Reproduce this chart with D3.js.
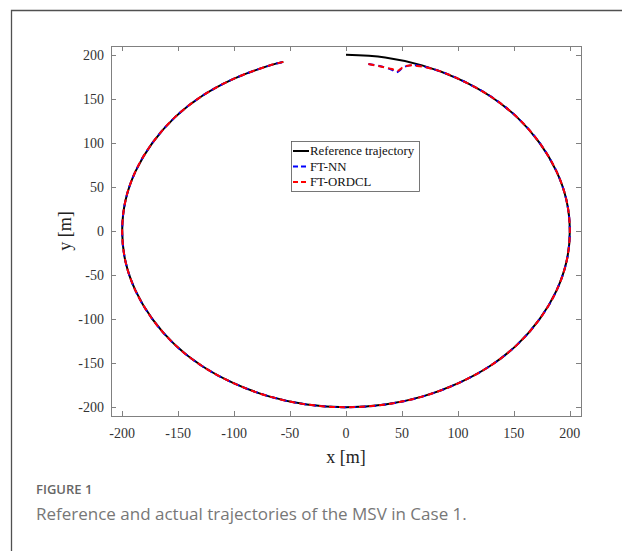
<!DOCTYPE html>
<html>
<head>
<meta charset="utf-8">
<script src="https://cdn.jsdelivr.net/npm/d3@7"></script>
<style>
  body { margin: 0; background: #fff; }
  .tick-label { font-family: "Liberation Serif", "Times New Roman", serif; font-size: 14px; fill: #333; }
  .axis-title { font-family: "Liberation Serif", "Times New Roman", serif; font-size: 18px; fill: #222; }
  .legend-text { font-family: "Liberation Serif", "Times New Roman", serif; font-size: 12.8px; fill: #111; }
</style>
</head>
<body>
<div id="chart"></div>
<script>
// reference trajectory (clockwise from the top)
const refX = [0, 35, 68, 100, 129, 153, 173, 188, 197, 200, 197, 188, 173, 153, 129, 100, 68, 35, 0,
    -35, -68, -100, -129, -153, -173, -188, -197, -200, -197, -188, -173, -153, -129, -100, -68, -56];
const refY = [200, 197, 188, 173, 153, 129, 100, 68, 35, 0, -35, -68, -100, -129, -153, -173, -188, -197, -200,
    -197, -188, -173, -153, -129, -100, -68, -35, 0, 35, 68, 100, 129, 153, 173, 188, 192];

// FT-NN actual trajectory
const nnX = [20, 31, 41, 45, 51, 57, 66, 80, 100, 129, 153, 173, 188, 197, 200, 197, 188, 173, 153, 129, 100, 68, 35, 0,
    -35, -68, -100, -129, -153, -173, -188, -197, -200, -197, -188, -173, -153, -129, -100, -68, -56];
const nnY = [189.5, 187, 183, 180, 185.5, 188, 187.5, 183, 173, 153, 129, 100, 68, 35, 0, -35, -68, -100, -129, -153, -173, -188, -197, -200,
    -197, -188, -173, -153, -129, -100, -68, -35, 0, 35, 68, 100, 129, 153, 173, 188, 192];

// FT-ORDCL actual trajectory
const orX = [20, 30, 41, 46, 51, 57, 66, 80, 100, 129, 153, 173, 188, 197, 200, 197, 188, 173, 153, 129, 100, 68, 35, 0,
    -35, -68, -100, -129, -153, -173, -188, -197, -200, -197, -188, -173, -153, -129, -100, -68, -56];
const orY = [189.5, 187, 183.8, 181.6, 186, 188, 187, 183, 173, 153, 129, 100, 68, 35, 0, -35, -68, -100, -129, -153, -173, -188, -197, -200,
    -197, -188, -173, -153, -129, -100, -68, -35, 0, 35, 68, 100, 129, 153, 173, 188, 192];

const xTicks = [-200, -150, -100, -50, 0, 50, 100, 150, 200];
const yTicks = [-200, -150, -100, -50, 0, 50, 100, 150, 200];

const seriesNames = ["Reference trajectory", "FT-NN", "FT-ORDCL"];
const seriesColors = ["#000000", "#0000ff", "#ff0000"];

const W = 622, H = 551;
const box = { left: 111, right: 581, top: 46, bottom: 416 };

const svg = d3.select("#chart").append("svg")
    .attr("width", W)
    .attr("height", H);

// outer figure frame (left and top edges visible)
svg.append("path")
    .attr("d", `M${W + 5},10.5 H11.5 V${H + 5}`)
    .attr("fill", "none")
    .attr("stroke", "#505050")
    .attr("stroke-width", 1.3);

const x = d3.scaleLinear().domain([-210, 210]).range([box.left, box.right]);
const y = d3.scaleLinear().domain([-210, 210]).range([box.bottom, box.top]);

const tickLen = 5;
const axisG = svg.append("g");

// box
axisG.append("rect")
    .attr("x", box.left + 0.5)
    .attr("y", box.top + 0.5)
    .attr("width", box.right - box.left)
    .attr("height", box.bottom - box.top)
    .attr("fill", "none")
    .attr("stroke", "#808080")
    .attr("stroke-width", 1);

// x ticks (bottom & top, inward)
xTicks.forEach(t => {
    let px = Math.round(x(t)) + 0.5;
    axisG.append("line").attr("x1", px).attr("x2", px)
        .attr("y1", box.bottom).attr("y2", box.bottom - tickLen)
        .attr("stroke", "#808080");
    axisG.append("line").attr("x1", px).attr("x2", px)
        .attr("y1", box.top).attr("y2", box.top + tickLen)
        .attr("stroke", "#808080");
    axisG.append("text")
        .attr("class", "tick-label")
        .attr("x", x(t))
        .attr("y", 438)
        .attr("text-anchor", "middle")
        .text(t);
});

// y ticks (left & right, inward)
yTicks.forEach(t => {
    let py = Math.round(y(t)) + 0.5;
    axisG.append("line").attr("y1", py).attr("y2", py)
        .attr("x1", box.left).attr("x2", box.left + tickLen)
        .attr("stroke", "#808080");
    axisG.append("line").attr("y1", py).attr("y2", py)
        .attr("x1", box.right).attr("x2", box.right - tickLen)
        .attr("stroke", "#808080");
    axisG.append("text")
        .attr("class", "tick-label")
        .attr("x", 104)
        .attr("y", y(t))
        .attr("dy", "0.35em")
        .attr("text-anchor", "end")
        .text(t);
});

// axis titles
svg.append("text")
    .attr("class", "axis-title")
    .attr("x", x(0))
    .attr("y", 463)
    .attr("text-anchor", "middle")
    .text("x [m]");

svg.append("text")
    .attr("class", "axis-title")
    .attr("transform", `translate(71,${y(0)}) rotate(-90)`)
    .attr("text-anchor", "middle")
    .text("y [m]");

// trajectories
const line = d3.line()
    .x(d => x(d[0]))
    .y(d => y(d[1]))
    .curve(d3.curveCatmullRom);

const series = [
    { pts: d3.zip(refX, refY), dash: null },
    { pts: d3.zip(nnX, nnY), dash: "6,4" },
    { pts: d3.zip(orX, orY), dash: "6,4" }
];

series.forEach((s, i) => {
    svg.append("path")
        .attr("d", line(s.pts))
        .attr("fill", "none")
        .attr("stroke", seriesColors[i])
        .attr("stroke-width", 2)
        .attr("stroke-dasharray", s.dash);
});

// legend
const lg = svg.append("g").attr("transform", "translate(291,141)");
lg.append("rect")
    .attr("x", 0.5).attr("y", 0.5)
    .attr("width", 128).attr("height", 50)
    .attr("fill", "#fff")
    .attr("stroke", "#555")
    .attr("stroke-width", 0.8);

seriesNames.forEach((name, i) => {
    let ly = 10 + i * 15.5;
    lg.append("line")
        .attr("x1", 2).attr("x2", 18)
        .attr("y1", ly).attr("y2", ly)
        .attr("stroke", seriesColors[i])
        .attr("stroke-width", 2)
        .attr("stroke-dasharray", i === 0 ? null : "5,3");
    lg.append("text")
        .attr("class", "legend-text")
        .attr("x", 19)
        .attr("y", ly)
        .attr("dy", "0.35em")
        .text(name);
});

// caption
svg.append("text")
    .attr("x", 36)
    .attr("y", 494)
    .style("font-family", "'Open Sans', sans-serif")
    .style("font-size", "13px")
    .style("font-weight", 600)
    .style("fill", "#666")
    .text("FIGURE 1");

svg.append("text")
    .attr("x", 36)
    .attr("y", 520)
    .style("font-family", "'Open Sans', sans-serif")
    .style("font-size", "17px")
    .style("fill", "#777")
    .text("Reference and actual trajectories of the MSV in Case 1.");
</script>
</body>
</html>
